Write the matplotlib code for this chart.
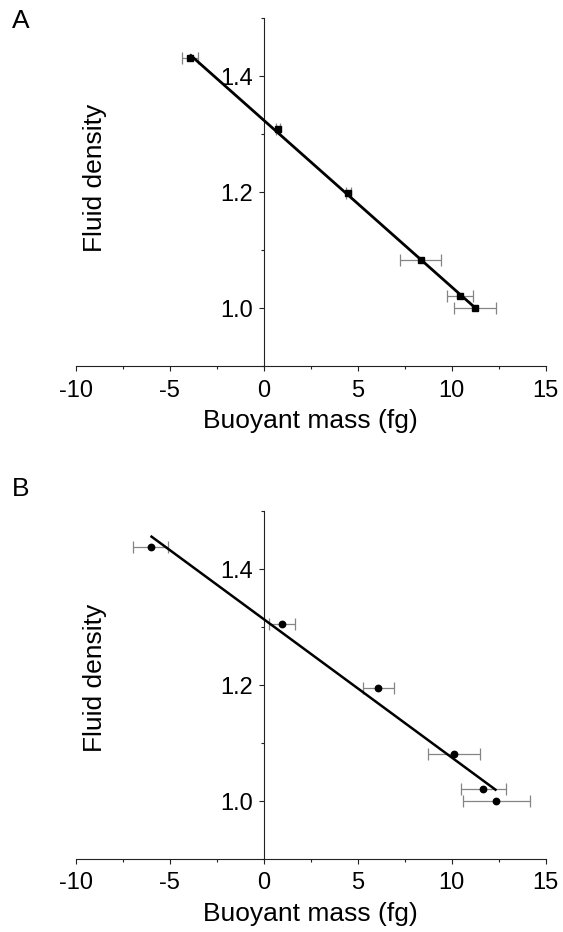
import numpy as np
import matplotlib
matplotlib.use("Agg")
import matplotlib.pyplot as plt
from matplotlib.ticker import MultipleLocator, FormatStrFormatter

plt.rcParams['font.family'] = ['Liberation Sans', 'DejaVu Sans']
plt.rcParams['axes.unicode_minus'] = False

# Panel A: buoyant mass (fg) of particles in fluids of known density
mass_a = [-3.94, 0.76, 4.51, 8.36, 10.44, 11.24]
mass_a_err = [0.43, 0.12, 0.15, 1.09, 0.71, 1.11]
density_a = [1.431, 1.310, 1.199, 1.084, 1.021, 1.000]

# Panel B
mass_b = [-6.03, 0.975, 6.09, 10.13, 11.68, 12.39]
mass_b_err = [0.91, 0.69, 0.83, 1.38, 1.2, 1.79]
density_b = [1.438, 1.306, 1.196, 1.082, 1.021, 1.000]

x_ticks = [-10, -5, 0, 5, 10, 15]
y_ticks = [1.0, 1.2, 1.4]

W, H = 563, 932
fig = plt.figure(figsize=(W / 100, H / 100), dpi=100)

ax_w = 469.5 / W
ax_h = 347.8 / H
ax_left = 76 / W
axA = fig.add_axes([ax_left, 1 - 366.3 / H, ax_w, ax_h])
axB = fig.add_axes([ax_left, 1 - 859.1 / H, ax_w, ax_h])


def draw_panel(ax, mass, mass_err, density, marker, msize, lw, label_y):
    mass = np.asarray(mass)
    density = np.asarray(density)
    ax.errorbar(mass, density, xerr=mass_err, fmt='none', ecolor='#858585',
                elinewidth=0.9, capsize=4.5, capthick=0.9, zorder=2)
    ax.plot(mass, density, linestyle='none', marker=marker, markersize=msize,
            color='black', zorder=3)
    slope, intercept = np.polyfit(mass, density, 1)
    xs = np.array([mass.min(), mass.max()])
    ax.plot(xs, slope * xs + intercept, color='black', lw=lw, zorder=4,
            solid_capstyle='butt')

    ax.set_xlim(-10, 15)
    ax.set_ylim(0.9, 1.5)
    ax.set_xticks(x_ticks)
    ax.set_yticks(y_ticks)
    ax.xaxis.set_minor_locator(MultipleLocator(2.5))
    ax.yaxis.set_minor_locator(MultipleLocator(0.1))
    ax.yaxis.set_major_formatter(FormatStrFormatter('%.1f'))

    for side in ('top', 'right'):
        ax.spines[side].set_visible(False)
    ax.spines['left'].set_position(('data', 0))
    for side in ('left', 'bottom'):
        ax.spines[side].set_linewidth(0.8)
        ax.spines[side].set_color('#222222')

    ax.tick_params(which='both', direction='out', width=0.8, color='#222222')
    ax.tick_params(which='major', length=3.6, labelsize=17)
    ax.tick_params(which='minor', length=2.4)
    ax.tick_params(axis='x', which='major', pad=6)
    ax.tick_params(axis='y', which='major', pad=4)

    ax.set_xlabel('Buoyant mass (fg)', fontsize=19)
    ax.set_ylabel('Fluid density', fontsize=19)
    ax.xaxis.set_label_coords(0.5, -0.122)
    ax.yaxis.set_label_coords(0.066, label_y)
    ax.patch.set_visible(False)


draw_panel(axA, mass_a, mass_a_err, density_a, 's', 4.2, 2.0, 0.543)
draw_panel(axB, mass_b, mass_b_err, density_b, 'o', 4.6, 1.8, 0.521)

fig.text(12 / W, 1 - 9 / H, 'A', fontsize=19, va='top', ha='left')
fig.text(12 / W, 1 - 477 / H, 'B', fontsize=19, va='top', ha='left')

fig.savefig('out.png', dpi=100, facecolor='white')
